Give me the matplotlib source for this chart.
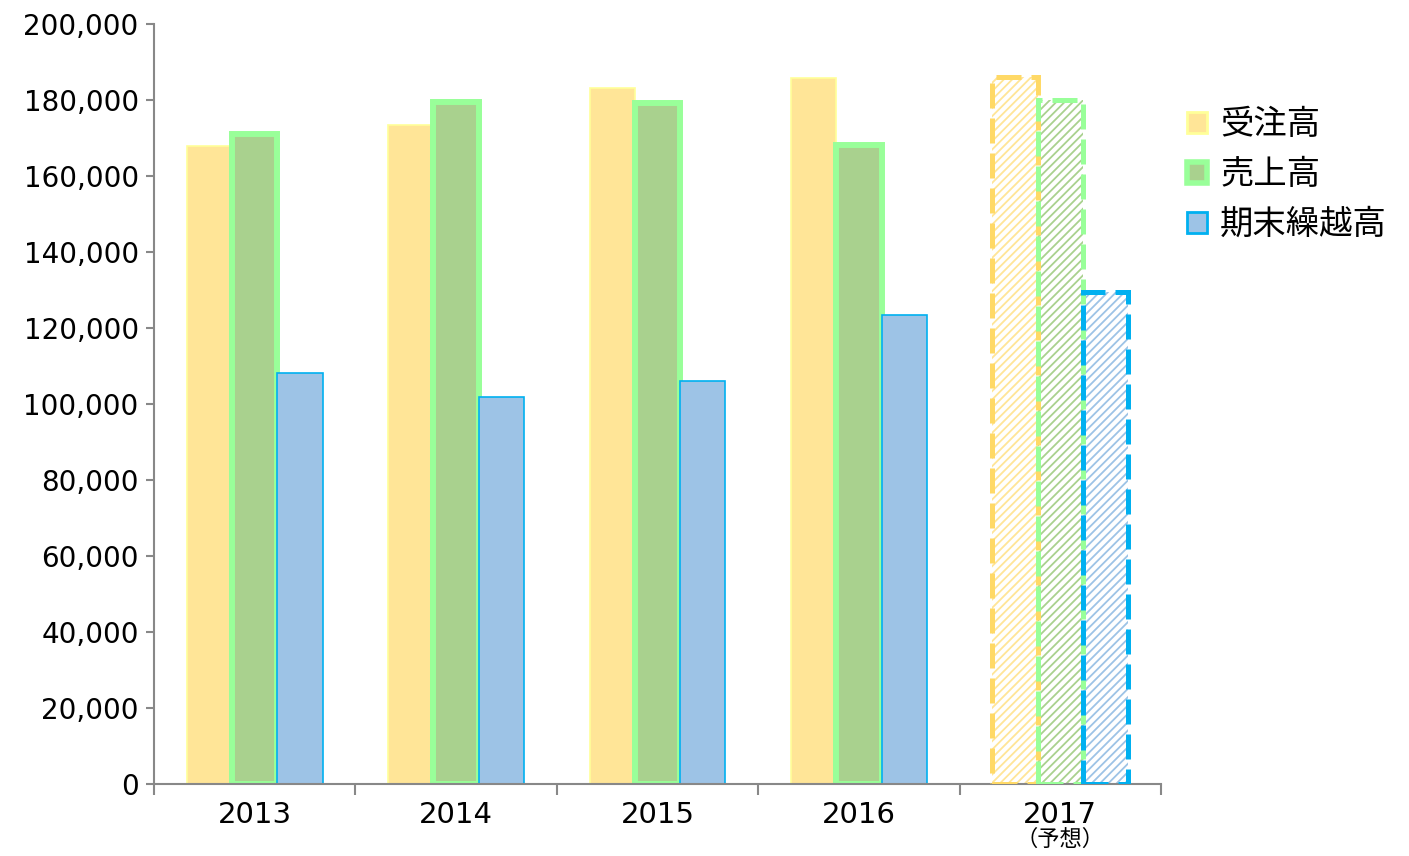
import numpy as np
import matplotlib
matplotlib.use("Agg")
import matplotlib.pyplot as plt
from matplotlib.patches import Patch
from matplotlib.ticker import FuncFormatter

plt.rcParams['font.family'] = ['DejaVu Sans', 'Noto Sans CJK JP']
plt.rcParams['hatch.linewidth'] = 1.3

years = ["2013", "2014", "2015", "2016", "2017"]
forecast_note = "（予想）"
series_names = ["受注高", "売上高", "期末繰越高"]
orders = [168000, 173500, 183200, 185800, 186000]
sales = [171000, 179500, 179200, 168200, 180000]
backlog = [108200, 101800, 106000, 123400, 129500]

fills = ["#FFE597", "#A9D18E", "#9DC3E6"]
edges = ["#FFFF99", "#99FF99", "#00B0F0"]
dash_edges = ["#FFD966", "#99FF99", "#00B0F0"]
edge_w = [1.2, 4.3, 1.2]

fig = plt.figure(figsize=(14.09, 8.56), dpi=100)
ax = fig.add_axes([0.1093, 0.0841, 0.7147, 0.8879])

x = np.arange(len(years))
w = 0.225
data = [orders, sales, backlog]
n_actual = 4
for i, vals in enumerate(data):
    off = (i - 1) * w
    ax.bar(x[:n_actual] + off, vals[:n_actual], w, color=fills[i],
           edgecolor=edges[i], linewidth=edge_w[i], zorder=2)
    # forecast year: hatched, dashed outline
    ax.bar(x[n_actual:] + off, vals[n_actual:], w, color="white",
           edgecolor=fills[i], hatch="////", linewidth=0, zorder=2)
    ax.bar(x[n_actual:] + off, vals[n_actual:], w, fill=False,
           edgecolor=dash_edges[i], linewidth=3.6,
           linestyle=(0, (5, 2)), zorder=3)

ax.set_xlim(-0.5, len(years) - 0.5)
ax.set_ylim(0, 200000)
ax.set_yticks(np.arange(0, 200001, 20000))
ax.yaxis.set_major_formatter(FuncFormatter(lambda v, p: f"{int(v):,}"))
ax.set_xticks(np.arange(-0.5, len(years), 1.0))
ax.set_xticklabels([])
ax.set_xticks(x, minor=True)
ax.set_xticklabels(years, minor=True)
ax.tick_params(axis="x", which="minor", length=0, labelsize=21, pad=12)
ax.tick_params(axis="x", which="major", length=8, color="#888888", width=1.5)
ax.tick_params(axis="y", length=6, color="#888888", width=1.5, labelsize=20, pad=5)
ax.text(x[-1], -0.073, forecast_note, transform=ax.get_xaxis_transform(),
        ha="center", va="center", fontsize=16, family=['Noto Sans CJK JP'])

for s in ["top", "right"]:
    ax.spines[s].set_visible(False)
for s in ["left", "bottom"]:
    ax.spines[s].set_color("#888888")
    ax.spines[s].set_linewidth(1.5)

handles = [Patch(facecolor=fills[i], edgecolor=edges[i], linewidth=[2, 4, 2][i])
           for i in range(3)]
fig.legend(handles, series_names, loc="upper left", bbox_to_anchor=(0.821, 0.91),
           frameon=False, handlelength=0.6, handleheight=0.6, handletextpad=0.4,
           labelspacing=0.45, prop={'family': 'Noto Sans CJK JP', 'size': 24})

fig.savefig("out.png", dpi=100)
